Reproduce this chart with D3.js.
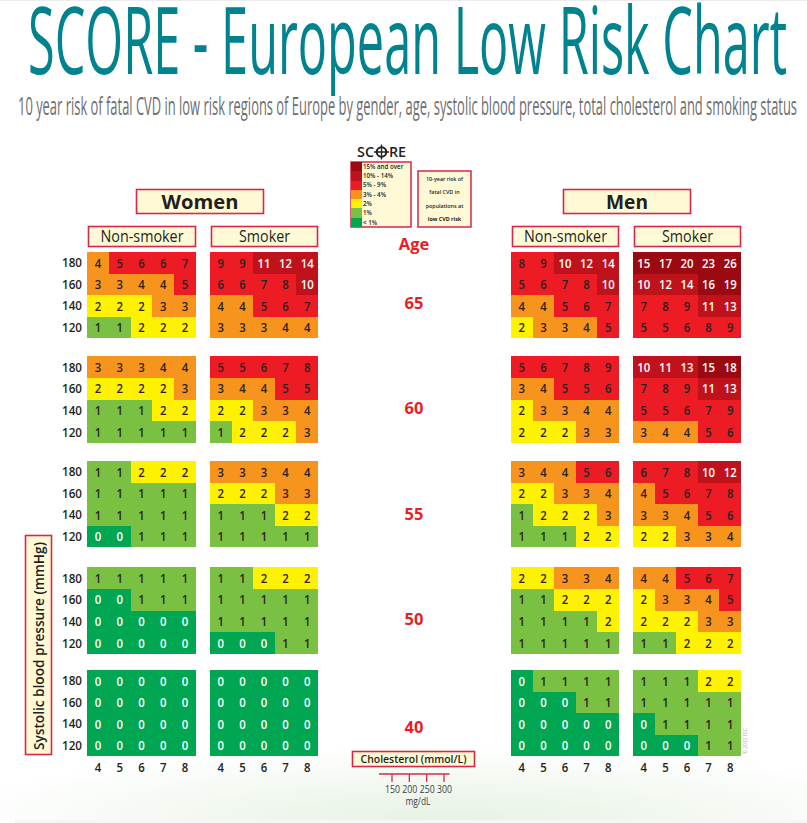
<!DOCTYPE html>
<html><head><meta charset="utf-8">
<script src="https://cdnjs.cloudflare.com/ajax/libs/d3/7.8.5/d3.min.js"></script>
<style>html,body{margin:0;padding:0;background:#fff}svg{display:block}text{font-family:"Open Sans",sans-serif}</style>
</head><body><svg id="c" width="807" height="823"></svg>
<script>
// ---- data (rows: SBP 180,160,140,120; columns: cholesterol 4..8)
const ages=[65,60,55,50,40];
const sbpLabels=[180,160,140,120];
const cholLabels=[4,5,6,7,8];
const mgdlLabels=[150,200,250,300];
const womenNonSmoker=[
 [[4,5,6,6,7],[3,3,4,4,5],[2,2,2,3,3],[1,1,2,2,2]],
 [[3,3,3,4,4],[2,2,2,2,3],[1,1,1,2,2],[1,1,1,1,1]],
 [[1,1,2,2,2],[1,1,1,1,1],[1,1,1,1,1],[0,0,1,1,1]],
 [[1,1,1,1,1],[0,0,1,1,1],[0,0,0,0,0],[0,0,0,0,0]],
 [[0,0,0,0,0],[0,0,0,0,0],[0,0,0,0,0],[0,0,0,0,0]]];
const womenSmoker=[
 [[9,9,11,12,14],[6,6,7,8,10],[4,4,5,6,7],[3,3,3,4,4]],
 [[5,5,6,7,8],[3,4,4,5,5],[2,2,3,3,4],[1,2,2,2,3]],
 [[3,3,3,4,4],[2,2,2,3,3],[1,1,1,2,2],[1,1,1,1,1]],
 [[1,1,2,2,2],[1,1,1,1,1],[1,1,1,1,1],[0,0,0,1,1]],
 [[0,0,0,0,0],[0,0,0,0,0],[0,0,0,0,0],[0,0,0,0,0]]];
const menNonSmoker=[
 [[8,9,10,12,14],[5,6,7,8,10],[4,4,5,6,7],[2,3,3,4,5]],
 [[5,6,7,8,9],[3,4,5,5,6],[2,3,3,4,4],[2,2,2,3,3]],
 [[3,4,4,5,6],[2,2,3,3,4],[1,2,2,2,3],[1,1,1,2,2]],
 [[2,2,3,3,4],[1,1,2,2,2],[1,1,1,1,2],[1,1,1,1,1]],
 [[0,1,1,1,1],[0,0,0,1,1],[0,0,0,0,0],[0,0,0,0,0]]];
const menSmoker=[
 [[15,17,20,23,26],[10,12,14,16,19],[7,8,9,11,13],[5,5,6,8,9]],
 [[10,11,13,15,18],[7,8,9,11,13],[5,5,6,7,9],[3,4,4,5,6]],
 [[6,7,8,10,12],[4,5,6,7,8],[3,3,4,5,6],[2,2,3,3,4]],
 [[4,4,5,6,7],[2,3,3,4,5],[2,2,2,3,3],[1,1,2,2,2]],
 [[1,1,1,2,2],[1,1,1,1,1],[0,1,1,1,1],[0,0,0,1,1]]];
const legendLabels=["15% and over","10% - 14%","5% - 9%","3% - 4%","2%","1%","< 1%"];
const legendColors=["#9a0a10","#c0121a","#ed1c24","#f7941d","#fff200","#7ac143","#00a651"];
const noteLines=["10-year risk of","fatal CVD in","populations at","low CVD risk"];

// ---- layout
const svg=d3.select("#c");
const RED="#d9264a", CREAM="#fff9d6", INK="#231f20";
const defs=svg.append("defs");
const rg=defs.append("radialGradient").attr("id","bg2").attr("cx",.55).attr("cy",1).attr("r",.62);
rg.append("stop").attr("offset",0).attr("stop-color","#e6f2e3");
rg.append("stop").attr("offset",1).attr("stop-color","#fff");
svg.append("rect").attr("x",0).attr("y",700).attr("width",807).attr("height",120).attr("fill","url(#bg2)");
svg.append("rect").attr("x",15).attr("y",820).attr("width",792).attr("height",3).attr("fill","#f6f6f6");
svg.append("rect").attr("x",0).attr("y",0).attr("width",807).attr("height",1).attr("fill","#ececec");

svg.append("text").text("SCORE - European Low Risk Chart")
 .attr("x",28).attr("y",74).attr("font-size",94).attr("fill","#00838f")
 .attr("textLength",759).attr("lengthAdjust","spacingAndGlyphs");
svg.append("text").text("10 year risk of fatal CVD in low risk regions of Europe by gender, age, systolic blood pressure, total cholesterol and smoking status")
 .attr("x",18).attr("y",115).attr("font-size",25).attr("fill","#6d6e71")
 .attr("textLength",779).attr("lengthAdjust","spacingAndGlyphs");

function box(x,y,w,h,sw=1.6){
 svg.append("rect").attr("x",x).attr("y",y).attr("width",w).attr("height",h)
  .attr("fill",CREAM).attr("stroke",RED).attr("stroke-width",sw);
}
function boxLabel(x,y,w,h,t,size,weight,len){
 box(x,y,w,h);
 svg.append("text").text(t).attr("x",x+w/2).attr("y",y+h/2).attr("dy","0.36em")
  .attr("text-anchor","middle").attr("font-size",size).attr("font-weight",weight||400).attr("fill",INK)
  .attr("textLength",len).attr("lengthAdjust","spacingAndGlyphs");
}
boxLabel(136.5,189.5,127,24,"Women",20,700,77);
boxLabel(563.5,189.5,127,24,"Men",20,700,42);
const panels=[
 {data:womenNonSmoker,x:[87,196],label:"Non-smoker",len:83,sbp:true},
 {data:womenSmoker,x:[210,318],label:"Smoker",len:51},
 {data:menNonSmoker,x:[511,619],label:"Non-smoker",len:83},
 {data:menSmoker,x:[633,741],label:"Smoker",len:51}];
const ageY=[[252,338],[356,443],[461,547],[567,654],[670,756]];
const ageLabelY=[303,408,514,619,727];

const color=d3.scaleThreshold().domain([1,2,3,5,10,15])
 .range(["#00a651","#7ac143","#fff200","#f7941d","#ed1c24","#c0121a","#9a0a10"]);
const digitLen=d=>String(d).length*6.5;

panels.forEach(p=>{
 const X=d3.scaleBand().domain(cholLabels).range(p.x);
 boxLabel(p.x[0]+1.5,226.5,p.x[1]-p.x[0]-2,20,p.label,16,400,p.len);
 p.data.forEach((rows,ai)=>{
  const Y=d3.scaleBand().domain(sbpLabels).range(ageY[ai]);
  const gp=svg.append("g");
  const cells=rows.flatMap((r,ri)=>r.map((v,ci)=>({v,s:sbpLabels[ri],c:cholLabels[ci]})));
  gp.selectAll("rect").data(cells).join("rect")
   .attr("x",d=>X(d.c)).attr("y",d=>Y(d.s)).attr("width",X.bandwidth()+.3).attr("height",Y.bandwidth()+.3)
   .attr("fill",d=>color(d.v)).attr("shape-rendering","crispEdges");
  gp.selectAll("text").data(cells).join("text").text(d=>d.v)
   .attr("x",d=>X(d.c)+X.bandwidth()/2).attr("y",d=>Y(d.s)+Y.bandwidth()/2).attr("dy","0.37em")
   .attr("text-anchor","middle").attr("font-size",13).attr("font-weight",600)
   .attr("textLength",d=>digitLen(d.v)).attr("lengthAdjust","spacingAndGlyphs")
   .attr("fill",d=>(d.v===0||d.v>=10)?"#fff":"#2b2320");
  if(p.sbp){
   svg.append("g").selectAll("text").data(sbpLabels).join("text").text(d=>d)
    .attr("x",82).attr("y",d=>Y(d)+Y.bandwidth()/2).attr("dy","0.36em")
    .attr("text-anchor","end").attr("font-size",13).attr("font-weight",600).attr("fill",INK)
    .attr("textLength",20).attr("lengthAdjust","spacingAndGlyphs");
  }
 });
 svg.append("g").selectAll("text").data(cholLabels).join("text").text(d=>d)
  .attr("x",d=>X(d)+X.bandwidth()/2).attr("y",767.5).attr("dy","0.36em")
  .attr("text-anchor","middle").attr("font-size",13).attr("font-weight",600).attr("fill",INK)
  .attr("textLength",6.5).attr("lengthAdjust","spacingAndGlyphs");
});

ages.forEach((a,i)=>svg.append("text").text(a).attr("x",414).attr("y",ageLabelY[i]).attr("dy","0.36em")
 .attr("text-anchor","middle").attr("font-size",16.5).attr("font-weight",700).attr("fill","#ed1c24"));
svg.append("text").text("Age").attr("x",414).attr("y",250).attr("text-anchor","middle")
 .attr("font-size",16.5).attr("font-weight",700).attr("fill","#ed1c24");

// Systolic label
box(25.5,535.5,26,219);
svg.append("text").text("Systolic blood pressure (mmHg)")
 .attr("transform","translate(38.5,646) rotate(-90)").attr("dy","0.36em").attr("text-anchor","middle")
 .attr("font-size",14).attr("font-weight",600).attr("fill",INK).attr("textLength",208).attr("lengthAdjust","spacingAndGlyphs");

// SCORE logo + legend
svg.append("text").text("SC").attr("x",357).attr("y",157).attr("font-size",15).attr("font-weight",600).attr("fill",INK)
 .attr("textLength",17).attr("lengthAdjust","spacingAndGlyphs");
svg.append("text").text("RE").attr("x",389).attr("y",157).attr("font-size",15).attr("font-weight",600).attr("fill",INK)
 .attr("textLength",17).attr("lengthAdjust","spacingAndGlyphs");
const logo=svg.append("g").attr("stroke",INK).attr("fill","none");
logo.append("circle").attr("cx",381.5).attr("cy",152).attr("r",4.8).attr("stroke-width",2);
logo.append("path").attr("d","M381.5 144.5V159.5M374 152H389").attr("stroke-width",1.3);
const ly=d3.scaleBand().domain(legendLabels).range([162,227]);
svg.append("rect").attr("x",351).attr("y",162).attr("width",60).attr("height",65).attr("fill",CREAM).attr("stroke",RED).attr("stroke-width",1.5);
svg.append("g").selectAll("rect").data(legendLabels).join("rect")
 .attr("x",351).attr("y",d=>ly(d)).attr("width",10.5).attr("height",ly.bandwidth()+.2)
 .attr("fill",(d,i)=>legendColors[i]).attr("shape-rendering","crispEdges");
svg.append("g").selectAll("text").data(legendLabels).join("text").text(d=>d)
 .attr("x",363).attr("y",d=>ly(d)+ly.bandwidth()/2).attr("dy","0.36em")
 .attr("font-size",6.2).attr("font-weight",600).attr("fill",INK);
svg.append("rect").attr("x",418).attr("y",171).attr("width",53).attr("height",56).attr("fill",CREAM).attr("stroke",RED).attr("stroke-width",1.5);
const ny=d3.scaleBand().domain(noteLines).range([172,226]);
svg.append("g").selectAll("text").data(noteLines).join("text").text(d=>d)
 .attr("x",444.5).attr("y",d=>ny(d)+ny.bandwidth()/2).attr("dy","0.36em").attr("text-anchor","middle")
 .attr("font-size",5.4).attr("font-weight",d=>d===noteLines[3]?700:600).attr("fill",INK);

// Cholesterol box and mg/dL axis
boxLabel(352.5,751.5,122,15,"Cholesterol (mmol/L)",10.5,600,106);
const mg=d3.scaleLinear().domain([150,300]).range([392,444]);
svg.append("line").attr("x1",379).attr("x2",449.5).attr("y1",774).attr("y2",774).attr("stroke",RED).attr("stroke-width",1.3);
svg.append("g").selectAll("line").data(mgdlLabels).join("line")
 .attr("x1",d=>mg(d)).attr("x2",d=>mg(d)).attr("y1",774).attr("y2",782).attr("stroke",RED).attr("stroke-width",1.3);
svg.append("g").selectAll("text").data(mgdlLabels).join("text").text(d=>d)
 .attr("x",d=>mg(d)+.5).attr("y",789.5).attr("dy","0.36em").attr("text-anchor","middle")
 .attr("font-size",10.5).attr("fill","#414042").attr("textLength",15).attr("lengthAdjust","spacingAndGlyphs");
svg.append("text").text("mg/dL").attr("x",418).attr("y",801).attr("dy","0.36em").attr("text-anchor","middle")
 .attr("font-size",10.5).attr("fill","#414042").attr("textLength",25).attr("lengthAdjust","spacingAndGlyphs");
svg.append("text").text("© 2012 ESC").attr("transform","translate(747,754) rotate(-90)")
 .attr("font-size",4.8).attr("fill","#a7a9ac");
</script></body></html>
